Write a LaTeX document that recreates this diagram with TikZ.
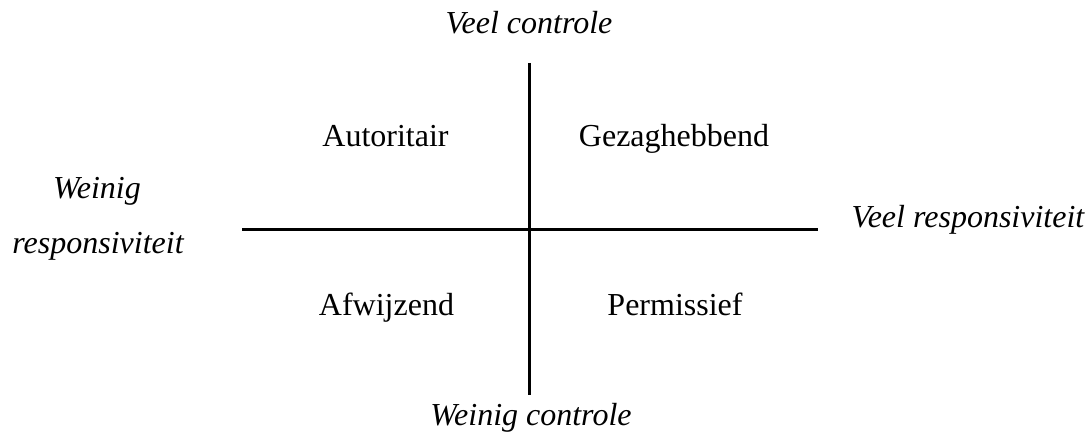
\documentclass[tikz,border=0pt]{standalone}
\usepackage{fontspec}
\setmainfont{Liberation Serif}
\begin{document}
\begin{tikzpicture}[x=0.75pt,y=-0.75pt,
  lbl/.style={anchor=base,inner sep=0pt,font=\fontsize{24}{28}\selectfont},
  axislbl/.style={lbl,font=\fontsize{24}{28}\selectfont\itshape},
  axisline/.style={line width=2.25pt}]
\useasboundingbox (0,0) rectangle (1088,435);
\coordinate (vtop) at (529,63);
\coordinate (vbot) at (529,395);
\coordinate (hleft) at (242,229);
\coordinate (hright) at (818,229);
\draw[axisline] (vtop) -- (vbot);
\draw[axisline] (hleft) -- (hright);
\node[axislbl] (vc) at (529,34) {Veel controle};
\node[axislbl] (wc) at (531,425) {Weinig controle};
\node[axislbl] (vr) at (968,227) {Veel responsiviteit};
\node[axislbl] (w1) at (97,198) {Weinig};
\node[axislbl] (w2) at (98,253) {responsiviteit};
\node[lbl] (aut) at (385.5,146) {Autoritair};
\node[lbl] (gez) at (674,146) {Gezaghebbend};
\node[lbl] (afw) at (386.5,315) {Afwijzend};
\node[lbl] (per) at (675,315) {Permissief};
\end{tikzpicture}
\end{document}
